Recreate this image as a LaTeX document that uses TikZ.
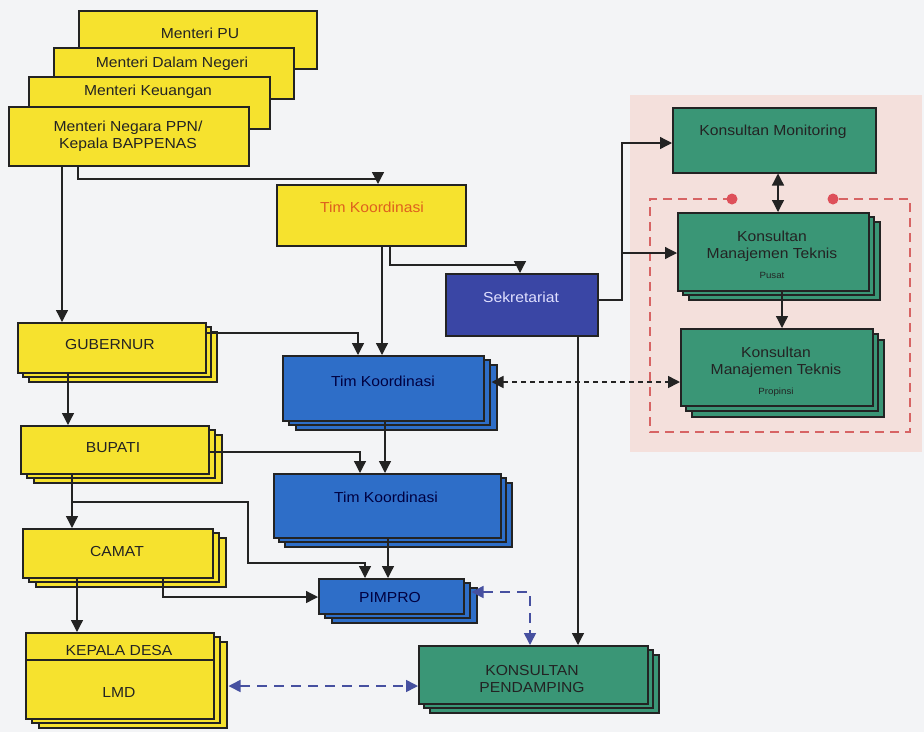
\documentclass[tikz,border=0pt]{standalone}
\usepackage{fontspec}
\setmainfont{Liberation Sans}[FakeStretch=1.08]
\usetikzlibrary{arrows.meta,calc}
\definecolor{ylw}{RGB}{246,226,46}
\definecolor{grn}{RGB}{58,150,118}
\definecolor{blu}{RGB}{46,110,200}
\definecolor{sekc}{RGB}{58,70,165}
\definecolor{pinkbg}{RGB}{244,224,220}
\definecolor{redd}{RGB}{215,100,100}
\definecolor{dotc}{RGB}{222,80,90}
\definecolor{bdash}{RGB}{70,80,160}
\definecolor{bgc}{RGB}{243,244,246}
\definecolor{orng}{RGB}{222,96,30}
\definecolor{ink}{RGB}{35,35,35}
\newcommand\mkbox[6]{%
  \node[box, fill=#6, minimum width={(#4-#2)*1pt}, minimum height={(#5-#3)*1pt}, anchor=north west] (#1) at (#2,#3) {};}
\newcommand\mkstack[8]{%
  \draw[box, fill=#6] (#2+2*#7,#3+2*#8) rectangle (#4+2*#7,#5+2*#8);
  \draw[box, fill=#6] (#2+#7,#3+#8) rectangle (#4+#7,#5+#8);
  \mkbox{#1}{#2}{#3}{#4}{#5}{#6}}
\tikzset{
  box/.style={draw=ink, line width=1.5pt, inner sep=0pt},
  txt/.style={font=\fontsize{14.5}{17.5}\selectfont, text=ink, align=center, inner sep=0pt},
  small/.style={font=\fontsize{9}{10}\selectfont, text=ink, inner sep=0pt},
  arr/.style={draw=ink, line width=1.3pt, -{Triangle[width=12pt,length=12pt]}},
  darr/.style={draw=ink, line width=1.3pt, {Triangle[width=12pt,length=12pt]}-{Triangle[width=12pt,length=12pt]}},
  dotarr/.style={draw=ink, line width=1.6pt, dash pattern=on 5pt off 4pt, {Triangle[width=12pt,length=12pt]}-{Triangle[width=12pt,length=12pt]}},
  barr/.style={draw=bdash, line width=1.6pt, dash pattern=on 10pt off 7pt, {Triangle[width=12pt,length=12pt]}-{Triangle[width=12pt,length=12pt]}},
}
\begin{document}
\begin{tikzpicture}[x=1pt,y=-1pt]
\useasboundingbox (0,0) rectangle (924,732);
\fill[bgc] (0,0) rectangle (924,732);
\fill[pinkbg] (630,95) rectangle (922,452);

% ministers
\mkbox{mpu}{78}{10}{316}{68}{ylw}
\mkbox{mdn}{53}{47}{293}{98}{ylw}
\mkbox{mku}{28}{76}{269}{128}{ylw}
\mkbox{bap}{8}{106}{248}{165}{ylw}
\node[txt] (mpu-t) at (200,33) {Menteri PU};
\node[txt] (mdn-t) at (172,64) {Menteri Dalam Negeri};
\node[txt] (mku-t) at (148,92) {Menteri Keuangan};
\node[txt] (bap-t) at (128,136) {Menteri Negara PPN/\\Kepala BAPPENAS};

% Tim Koordinasi (yellow) and Sekretariat
\mkbox{tkY}{276}{184}{465}{245}{ylw}
\node[txt, text=orng] (tkY-t) at (372,207) {Tim Koordinasi};
\mkbox{sek}{445}{273}{597}{335}{sekc}
\node[txt, text=white!88!blue] (sek-t) at (521,297) {Sekretariat};

% consultants (right)
\mkbox{kmon}{672}{107}{875}{172}{grn}
\node[txt] (kmon-t) at (773,132) {Konsultan Monitoring};
\mkstack{kpus}{677}{212}{868}{290}{grn}{6}{5}
\node[txt] (kpus-t) at (772,246) {Konsultan\\Manajemen Teknis};
\node[small] (kpus-s) at (772,275) {Pusat};
\mkstack{kprov}{680}{328}{872}{405}{grn}{6}{6}
\node[txt] (kprov-t) at (776,362) {Konsultan\\Manajemen Teknis};
\node[small] (kprov-s) at (776,392) {Propinsi};

% red dashed frame
\draw[redd, line width=1.5pt, dash pattern=on 9pt off 6pt] (732,199) -- (650,199) -- (650,432) -- (910,432) -- (910,199) -- (833,199);
\fill[dotc] (732,199) circle (5.5);
\fill[dotc] (833,199) circle (5.5);

% left hierarchy
\mkstack{gub}{17}{322}{205}{372}{ylw}{6}{5}
\node[txt] (gub-t) at (110,344) {GUBERNUR};
\mkstack{bup}{20}{425}{208}{473}{ylw}{7}{5}
\node[txt] (bup-t) at (113,448) {BUPATI};
\mkstack{cam}{22}{528}{212}{577}{ylw}{7}{5}
\node[txt] (cam-t) at (117,551) {CAMAT};
\mkstack{kd}{25}{632}{213}{718}{ylw}{7}{5}
\draw[box] (kd.west |- 0,660) -- (kd.east |- 0,660);
\node[txt] (kd-t) at (119,650) {KEPALA DESA};
\node[txt] (lmd-t) at (119,692) {LMD};

% blue chain
\mkstack{tk1}{282}{355}{483}{420}{blu}{7}{5}
\node[txt, text=blue!25!black] (tk1-t) at (383,381) {Tim Koordinasi};
\mkstack{tk2}{273}{473}{500}{537}{blu}{6}{5}
\node[txt, text=blue!25!black] (tk2-t) at (386,497) {Tim Koordinasi};
\mkstack{pim}{318}{578}{463}{613}{blu}{7}{5}
\node[txt, text=blue!25!black] (pim-t) at (390,597) {PIMPRO};
\mkstack{kpen}{418}{645}{647}{703}{grn}{6}{5}
\node[txt] (kpen-t) at (532,679) {KONSULTAN\\PENDAMPING};

% connectors
\draw[arr] (bap.south -| 62,0) -- (gub.north -| 62,0);
\draw[arr] (bap.south -| 78,0) |- (378,179) -- (tkY.north -| 378,0);
\draw[arr] (tkY.south -| 382,0) -- (tk1.north -| 382,0);
\draw[arr] (tkY.south -| 390,0) |- (520,265) -- (sek.north -| 520,0);
\draw[arr] (sek.east |- 0,300) -| (622,143) -- (kmon.west |- 0,143);
\draw[arr] (622,253) -- (kpus.west |- 0,253);
\draw[arr] (sek.south -| 578,0) -- (kpen.north -| 578,0);
\draw[darr] (kmon.south -| 778,0) -- (kpus.north -| 778,0);
\draw[arr] (kpus.south -| 782,0) -- (kprov.north -| 782,0);
\draw[dotarr] (tk1.east |- 0,382) ++(7,0) -- (kprov.west |- 0,382);
\draw[arr] (gub.east |- 0,333) -| (tk1.north -| 358,0);
\draw[arr] (gub.south -| 68,0) -- (bup.north -| 68,0);
\draw[arr] (bup.east |- 0,452) -| (tk2.north -| 360,0);
\draw[arr] (tk1.south -| 385,0) -- (tk2.north -| 385,0);
\draw[arr] (bup.south -| 72,0) -- (cam.north -| 72,0);
\draw[arr] (72,502) -| (248,563) -| (pim.north -| 365,0);
\draw[arr] (tk2.south -| 388,0) -- (pim.north -| 388,0);
\draw[arr] (cam.south -| 163,0) |- (pim.west |- 0,597);
\draw[arr] (cam.south -| 77,0) -- (kd.north -| 77,0);
\draw[barr] (pim.east |- 0,592) ++(7,0) -| (kpen.north -| 530,0);
\draw[barr] (kd.east |- 0,686) ++(14,0) -- (kpen.west |- 0,686);
\end{tikzpicture}
\end{document}
